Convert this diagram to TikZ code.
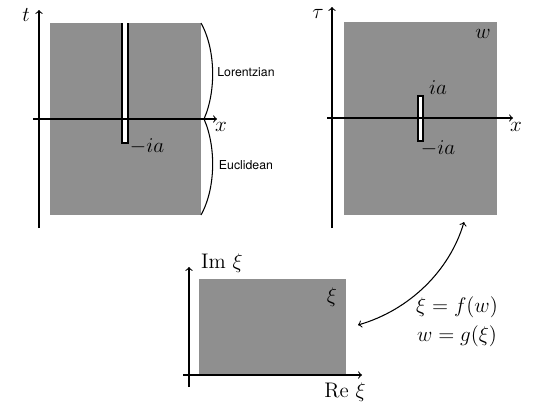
\documentclass[tikz,border=0pt]{standalone}
\usepackage{amsmath}
\usepackage{fontspec}
\newfontfamily\regionfont{TeX Gyre Heros}

\begin{document}
\begin{tikzpicture}[x=0.02cm, y=-0.02cm,
    axis/.style={line width=0.6pt, ->},
    region/.style={fill=black!44},
    slit/.style={fill=white, draw=black, line width=0.6pt},
    lbl/.style={font=\large},
    side/.style={font=\regionfont\scriptsize}]
  \useasboundingbox (0,0) rectangle (545,409);
  % Top left: Lorentzian / Euclidean time
  \fill[region] (50,23) rectangle (201,215);
  \fill[white] (122,23) rectangle (128,143);
  \draw[line width=0.6pt] (122,23) -- (122,143) -- (128,143) -- (128,23);
  \draw[axis] (39,228) -- (39,10);
  \draw[axis] (33,119) -- (217,119);
  \node[lbl] (tlab) at (26,15) {$t$};
  \node[lbl] (xlabA) at (221,127) {$x$};
  \node[lbl] (cutA) at (147,146) {$-ia$};
  % Brackets
  \draw[line width=0.6pt] (201,23) .. controls (216,50) and (216,92) .. (204,119);
  \draw[line width=0.6pt] (204,119) .. controls (216,146) and (216,188) .. (201,215);
  \node[side] (lor) at (246,72) {Lorentzian};
  \node[side] (euc) at (246,165) {Euclidean};
  % Top right: w plane
  \fill[region] (344,22) rectangle (497,215);
  \draw[slit] (418,96) rectangle (423,141);
  \draw[axis] (332,228) -- (332,7);
  \draw[axis] (327,118) -- (513,118);
  \node[lbl] (taulab) at (318,14) {$\tau$};
  \node[lbl] (xlabB) at (516,127) {$x$};
  \node[lbl] (wlab) at (483,34) {$w$};
  \node[lbl] (ialab) at (438,88) {$ia$};
  \node[lbl] (cutB) at (438,148) {$-ia$};
  % Bottom: xi plane
  \fill[region] (199,279) rectangle (346,375);
  \draw[axis] (189,387) -- (189,267);
  \draw[axis] (183,375) -- (362,375);
  \draw[line width=1.2pt] (199,375) -- (346,375);
  \node[lbl] (imlab) at (222,263) {$\mathrm{Im}\ \xi$};
  \node[lbl] (relab) at (345,392) {$\mathrm{Re}\ \xi$};
  \node[lbl] (xilab) at (332,297) {$\xi$};
  % Map between the planes
  \coordinate (wend) at (464,222);
  \coordinate (xiend) at (358,325);
  \draw[line width=0.6pt, <->] (wend) .. controls (450,270) and (410,310) .. (xiend);
  \node[lbl] (fmap) at (457,307) {$\xi = f(w)$};
  \node[lbl] (gmap) at (457,336) {$w = g(\xi)$};
\end{tikzpicture}
\end{document}
